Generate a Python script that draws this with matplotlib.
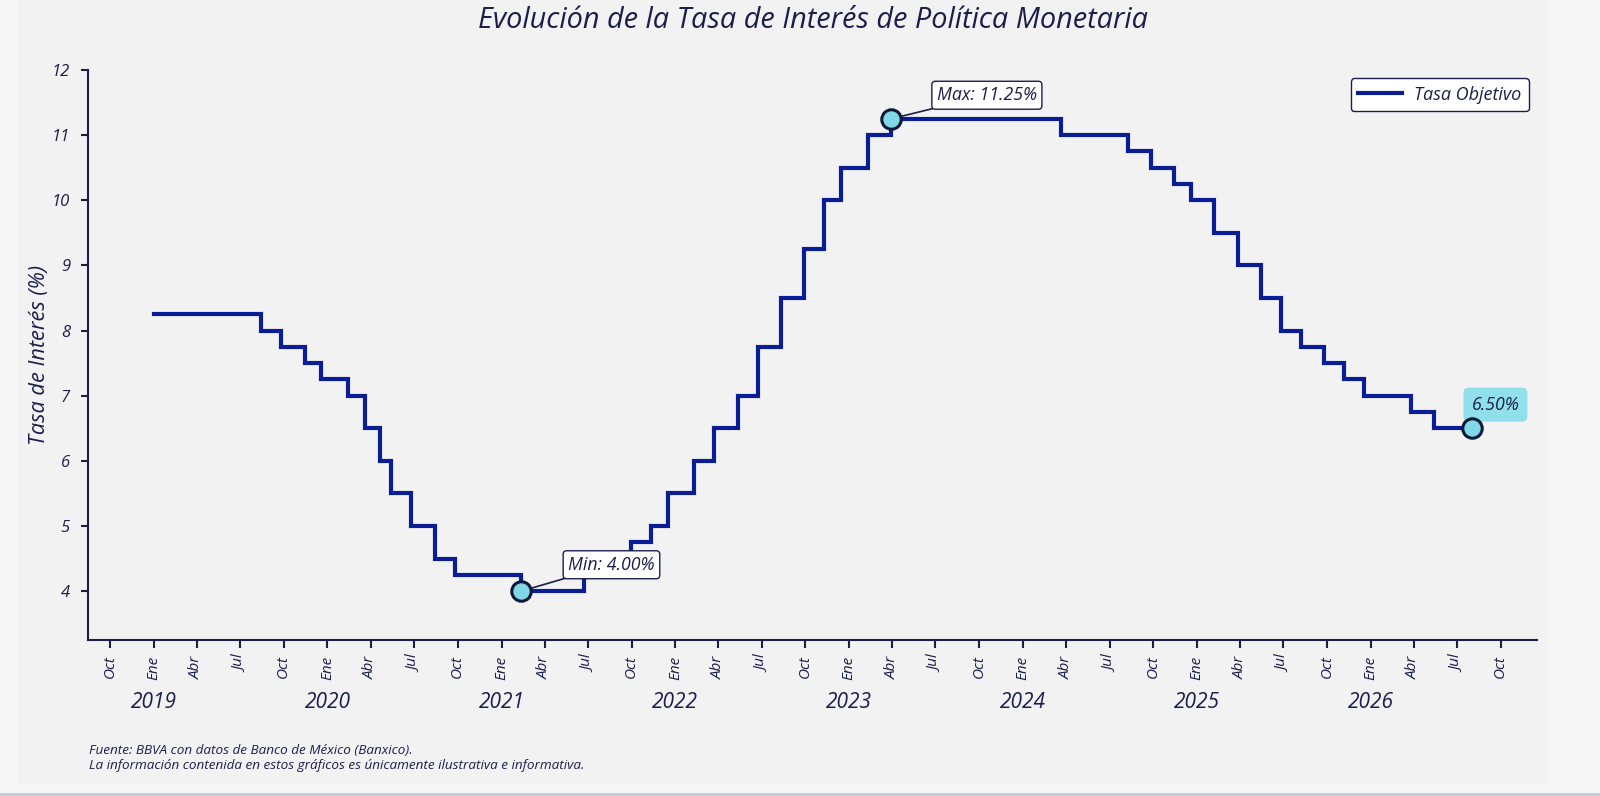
import matplotlib
matplotlib.use("Agg")
import matplotlib.pyplot as plt
import matplotlib.transforms as mtransforms
from matplotlib.patches import Rectangle
import pandas as pd

# ---------------- data ----------------
fechas = ["2019-01-01", "2019-08-15", "2019-09-26", "2019-11-14", "2019-12-19",
          "2020-02-13", "2020-03-20", "2020-04-21", "2020-05-14", "2020-06-25",
          "2020-08-13", "2020-09-24", "2021-02-11", "2021-06-24", "2021-08-12",
          "2021-09-30", "2021-11-11", "2021-12-16", "2022-02-10", "2022-03-24",
          "2022-05-12", "2022-06-23", "2022-08-11", "2022-09-29", "2022-11-10",
          "2022-12-15", "2023-02-09", "2023-03-30", "2024-03-21", "2024-08-08",
          "2024-09-26", "2024-11-14", "2024-12-19", "2025-02-06", "2025-03-27",
          "2025-05-15", "2025-06-26", "2025-08-07", "2025-09-25", "2025-11-06",
          "2025-12-18", "2026-03-26", "2026-05-14", "2026-08-01"]
tasa = [8.25, 8.00, 7.75, 7.50, 7.25,
        7.00, 6.50, 6.00, 5.50, 5.00,
        4.50, 4.25, 4.00, 4.25, 4.50,
        4.75, 5.00, 5.50, 6.00, 6.50,
        7.00, 7.75, 8.50, 9.25, 10.00,
        10.50, 11.00, 11.25, 11.00, 10.75,
        10.50, 10.25, 10.00, 9.50, 9.00,
        8.50, 8.00, 7.75, 7.50, 7.25,
        7.00, 6.75, 6.50, 6.50]
meses_es = {1: "Ene", 4: "Abr", 7: "Jul", 10: "Oct"}
anios = [2019, 2020, 2021, 2022, 2023, 2024, 2025, 2026]
titulo = "Evolución de la Tasa de Interés de Política Monetaria"
etiqueta_y = "Tasa de Interés (%)"
leyenda = "Tasa Objetivo"
fuente = ["Fuente: BBVA con datos de Banco de México (Banxico).",
          "La información contenida en estos gráficos es únicamente ilustrativa e informativa."]

# ---------------- style ----------------
FONT = ["Open Sans", "DejaVu Sans"]
plt.rcParams["font.family"] = FONT
NAVY = "#1b1e4b"
LINE = "#0a1c96"
CYAN = "#80d8e6"
PANEL = "#f2f2f2"

x = pd.to_datetime(fechas)
y = tasa

fig = plt.figure(figsize=(16, 7.96), dpi=100, facecolor="#f6f6f6")
fig.patches.append(Rectangle((18 / 1600, 11 / 796), (1548 - 18) / 1600, 1 - 11 / 796,
                             transform=fig.transFigure, facecolor=PANEL,
                             edgecolor="none", zorder=-10))
fig.patches.append(Rectangle((0, 0), 1, 3 / 796, transform=fig.transFigure,
                             facecolor="#c9cad4", edgecolor="none", zorder=-10))

ax = fig.add_axes([88 / 1600, 1 - 640 / 796, (1537 - 88) / 1600, (640 - 70) / 796])
ax.set_facecolor(PANEL)

ax.step(x, y, where="post", color=LINE, lw=3.0, label=leyenda, zorder=3,
        solid_joinstyle="miter")

ax.set_xlim(pd.Timestamp("2018-08-16"), pd.Timestamp("2026-12-16"))
ax.set_ylim(min(y) - 0.75, max(y) + 0.75)

# spines
for s in ["top", "right"]:
    ax.spines[s].set_visible(False)
for s in ["left", "bottom"]:
    ax.spines[s].set_color(NAVY)
    ax.spines[s].set_linewidth(1.5)

# x ticks
ticks = pd.date_range("2018-10-01", "2026-10-01", freq="QS-OCT")
ax.set_xticks(ticks)
ax.set_xticklabels([meses_es[t.month] for t in ticks], rotation=90,
                   fontsize=11, fontstyle="italic", color=NAVY)
ax.tick_params(axis="x", length=6, width=1.5, color=NAVY, pad=5)
ax.set_yticks(range(4, 13))
ax.set_yticklabels([str(v) for v in range(4, 13)], fontsize=12,
                   fontstyle="italic", color=NAVY)
ax.tick_params(axis="y", length=5, width=1.5, color=NAVY, pad=8)

trans = mtransforms.blended_transform_factory(ax.transData, ax.transAxes)
for a in anios:
    ax.text(pd.Timestamp(f"{a}-01-01"), -0.109, str(a), transform=trans,
            ha="center", va="center", fontsize=15, fontstyle="italic", color=NAVY)

ax.set_ylabel(etiqueta_y, fontsize=15.7, fontstyle="italic", color=NAVY, labelpad=1)
ax.set_title(titulo, fontsize=20.8, fontstyle="italic", color=NAVY, pad=30)

# markers and annotations
i_min = y.index(min(y))
i_max = y.index(max(y))
i_last = len(y) - 1
for i in [i_min, i_max, i_last]:
    ax.plot(x[i], y[i], "o", ms=14, mfc=CYAN, mec="#0c1a3a", mew=2.2, zorder=5)

box_w = dict(boxstyle="round,pad=0.28,rounding_size=0.2", fc="white", ec=NAVY, lw=1.0)
ax.annotate(f"Min: {y[i_min]:.2f}%", xy=(x[i_min], y[i_min]), xytext=(65, 19),
            textcoords="offset points", ha="center", va="center", fontsize=12.8,
            fontstyle="italic", color=NAVY, bbox=box_w, zorder=4,
            arrowprops=dict(arrowstyle="-", color=NAVY, lw=1.2, shrinkA=0, shrinkB=6))
ax.annotate(f"Max: {y[i_max]:.2f}%", xy=(x[i_max], y[i_max]), xytext=(69, 17),
            textcoords="offset points", ha="center", va="center", fontsize=12.8,
            fontstyle="italic", color=NAVY, bbox=box_w, zorder=4,
            arrowprops=dict(arrowstyle="-", color=NAVY, lw=1.2, shrinkA=0, shrinkB=6))
ax.annotate(f"{y[i_last]:.2f}%", xy=(x[i_last], y[i_last]), xytext=(17, 17),
            textcoords="offset points", ha="center", va="center", fontsize=12.8,
            fontstyle="italic", color=NAVY, zorder=4,
            bbox=dict(boxstyle="round,pad=0.45,rounding_size=0.3", fc="#8fe0ea", ec="none"))

leg = ax.legend(loc="upper right", bbox_to_anchor=(0.9945, 0.986), borderaxespad=0,
                frameon=True, handlelength=2.4, borderpad=0.42, handletextpad=0.7,
                prop=dict(family=FONT, style="italic", size=13))
leg.get_frame().set_facecolor("white")
leg.get_frame().set_edgecolor(NAVY)
leg.get_frame().set_linewidth(1.0)
leg.get_frame().set_alpha(1)
for t in leg.get_texts():
    t.set_color(NAVY)

fig.text(89 / 1600, 1 - 750 / 796, fuente[0], fontsize=9.7, fontstyle="italic",
         color=NAVY, va="center")
fig.text(89 / 1600, 1 - 766 / 796, fuente[1], fontsize=9.7, fontstyle="italic",
         color=NAVY, va="center")

fig.savefig("out.png", dpi=100, facecolor=fig.get_facecolor())
